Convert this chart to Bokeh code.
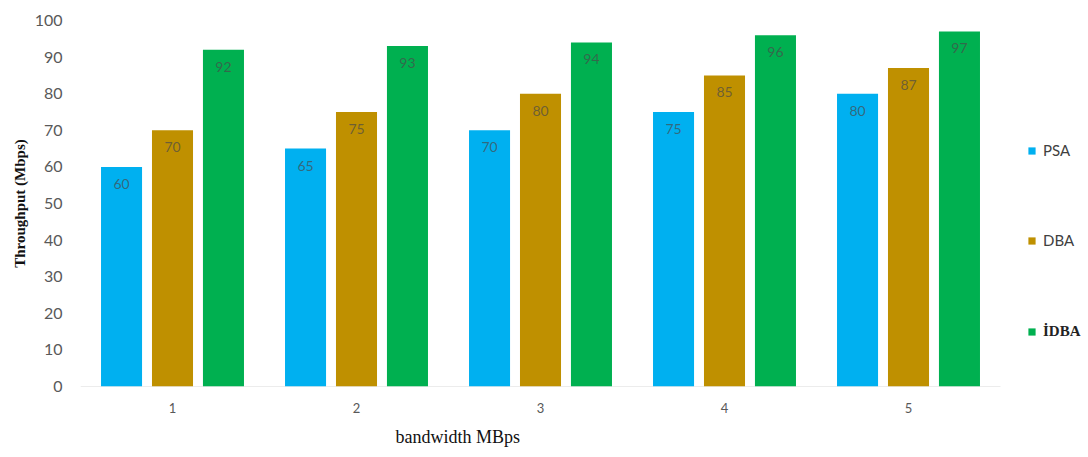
from bokeh.plotting import figure
from bokeh.models import ColumnDataSource, Range1d, Legend, LegendItem, FixedTicker, Title
from bokeh.core.properties import value
from bokeh.embed import file_html
from bokeh.resources import INLINE

groups = [1, 2, 3, 4, 5]
psa = [60, 65, 70, 75, 80]
dba = [70, 75, 80, 85, 87]
idba = [92, 93, 94, 96, 97]
series_names = ["PSA", "DBA", "İDBA"]
series_colors = ["#00B0F0", "#BF9000", "#00B050"]
y_ticks = [0, 10, 20, 30, 40, 50, 60, 70, 80, 90, 100]

SANS = "Lato"
SERIF = "Liberation Serif"

# plot area spans the full width; the extra room on the right holds the legend
x_start = groups[0] - 0.5
x_end = groups[-1] + 0.5
p = figure(width=1088, height=457, output_backend="svg", toolbar_location=None,
           x_range=Range1d(x_start, x_end + 88 / 184), y_range=Range1d(0, 100),
           min_border_left=80, min_border_right=0, min_border_top=20, min_border_bottom=71)
p.outline_line_color = None
p.background_fill_color = "white"
p.border_fill_color = "white"
p.xgrid.grid_line_color = None
p.ygrid.grid_line_color = None

# category baseline under the groups only
p.segment(x0=[x_start], x1=[x_end], y0=[0], y1=[0], line_color="#D9D9D9", line_width=1)

bar_w = 0.223
offsets = [-0.277, 0.0, 0.277]
renderers = []
for vals, off, col in zip([psa, dba, idba], offsets, series_colors):
    src = ColumnDataSource(dict(x=[g + off for g in groups], top=vals,
                                lbl=[str(v) for v in vals]))
    r = p.vbar(x="x", top="top", bottom=0, width=bar_w, source=src,
               fill_color=col, line_color=None)
    renderers.append(r)
    p.text(x="x", y="top", text="lbl", source=src, text_align="center",
           text_baseline="middle", y_offset=17, text_font=value(SANS),
           text_font_size="14px", text_color="#4a4a4a", text_alpha=0.7)

# y axis
p.yaxis.ticker = FixedTicker(ticks=y_ticks)
p.yaxis.axis_line_color = None
p.yaxis.major_tick_line_color = None
p.yaxis.minor_tick_line_color = None
p.yaxis.major_label_text_font = SANS
p.yaxis.major_label_text_font_size = "16px"
p.yaxis.major_label_text_color = "#595959"
p.yaxis.major_label_standoff = 12
p.yaxis.axis_label = "Throughput (Mbps)"
p.yaxis.axis_label_text_font = SERIF
p.yaxis.axis_label_text_font_style = "bold"
p.yaxis.axis_label_text_font_size = "15px"
p.yaxis.axis_label_text_color = "#111111"
p.yaxis.axis_label_standoff = 4

# x axis
p.xaxis.ticker = FixedTicker(ticks=groups)
p.xaxis.axis_line_color = None
p.xaxis.major_tick_line_color = None
p.xaxis.minor_tick_line_color = None
p.xaxis.major_label_text_font = SANS
p.xaxis.major_label_text_font_size = "13px"
p.xaxis.major_label_text_color = "#595959"
p.xaxis.major_label_standoff = 10

p.add_layout(Title(text="bandwidth MBps", align="left", offset=315,
                   text_font=SERIF, text_font_size="18px", text_font_style="normal",
                   text_color="#111111", standoff=18), "below")

common = dict(orientation="vertical", glyph_width=9, glyph_height=9, label_height=9,
              label_standoff=7, padding=0, margin=0, border_line_color=None,
              background_fill_alpha=0, label_text_baseline="middle")

legend_a = Legend(items=[LegendItem(label=n, renderers=[r])
                         for n, r in zip(series_names[:2], renderers[:2])],
                  location=(947, 137), spacing=72,
                  label_text_font=SANS, label_text_font_size="15px",
                  label_text_color="#404040", **common)
legend_b = Legend(items=[LegendItem(label=series_names[2], renderers=[renderers[2]])],
                  location=(947, 46),
                  label_text_font=SERIF, label_text_font_style="bold",
                  label_text_font_size="15px", label_text_color="#222222", **common)
p.add_layout(legend_a, "center")
p.add_layout(legend_b, "center")

open("out.html", "w").write(file_html(p, INLINE))
